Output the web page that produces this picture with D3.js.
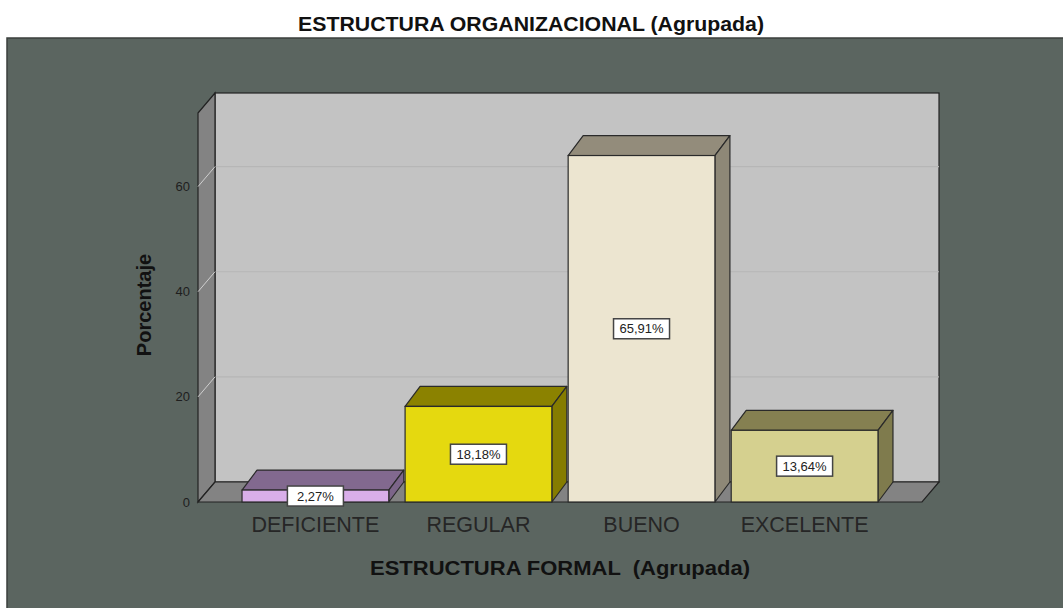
<!DOCTYPE html>
<html>
<head>
<meta charset="utf-8">
<script src="https://cdn.jsdelivr.net/npm/d3@7"></script>
<style>
  body { margin: 0; background: #fff; }
  svg { display: block; font-family: "Liberation Sans", Arial, sans-serif; }
</style>
</head>
<body>
<div id="chart"></div>
<script>
// data
const categories = ["DEFICIENTE", "REGULAR", "BUENO", "EXCELENTE"];
const values = [2.27, 18.18, 65.91, 13.64];
const valueLabels = ["2,27%", "18,18%", "65,91%", "13,64%"];
const yTicks = [0, 20, 40, 60];

// colours per bar: front, top, side
const frontColors = ["#d9aee9", "#e5d90f", "#ece5d0", "#d5d08f"];
const topColors = ["#82698f", "#8b8200", "#938c7b", "#858051"];
const sideColors = ["#7c6589", "#857c00", "#8e8877", "#7f7b4d"];

const width = 1063, height = 608;
const depth = {dx: 17, dy: -20};
const barDepth = {dx: 15, dy: -20};

const svg = d3.select("#chart").append("svg")
    .attr("width", width)
    .attr("height", height);

// dark panel
svg.append("rect")
    .attr("x", 7).attr("y", 38)
    .attr("width", width - 6).attr("height", height - 37)
    .attr("fill", "#5b6560")
    .attr("stroke", "#3b3f3d")
    .attr("stroke-width", 1.5);

// title
svg.append("text")
    .attr("x", 531).attr("y", 31)
    .attr("text-anchor", "middle")
    .attr("font-size", "21px")
    .attr("font-weight", "bold")
    .attr("fill", "#111")
    .attr("textLength", 466)
    .attr("lengthAdjust", "spacingAndGlyphs")
    .text("ESTRUCTURA ORGANIZACIONAL (Agrupada)");

// scales
const x0 = 198, x1 = 922;
const x = d3.scaleBand()
    .domain(categories)
    .range([x0, x1])
    .paddingInner(0.1)
    .paddingOuter(0.27);

const y = d3.scaleLinear()
    .domain([0, 74])
    .range([502, 113]);

const yTop = y.range()[1];
const y0 = y(0);

// back wall
svg.append("rect")
    .attr("x", x0 + depth.dx).attr("y", yTop + depth.dy)
    .attr("width", x1 - x0).attr("height", y0 - yTop)
    .attr("fill", "#c3c3c3")
    .attr("stroke", "#222")
    .attr("stroke-width", 1.2);

// gridlines on back wall
svg.append("g")
    .selectAll("line")
    .data(yTicks.filter(d => d > 0))
    .join("line")
    .attr("x1", x0 + depth.dx).attr("x2", x1 + depth.dx)
    .attr("y1", d => y(d) + depth.dy).attr("y2", d => y(d) + depth.dy)
    .attr("stroke", "#b6b6b6")
    .attr("stroke-width", 1.2);

// side wall
svg.append("polygon")
    .attr("points", [
        [x0, yTop], [x0 + depth.dx, yTop + depth.dy],
        [x0 + depth.dx, y0 + depth.dy], [x0, y0]
    ].map(p => p.join(",")).join(" "))
    .attr("fill", "#838383")
    .attr("stroke", "#222")
    .attr("stroke-width", 1.2);

// ticks running across the side wall
svg.append("g")
    .selectAll("line")
    .data(yTicks.filter(d => d > 0))
    .join("line")
    .attr("x1", x0).attr("x2", x0 + depth.dx)
    .attr("y1", d => y(d)).attr("y2", d => y(d) + depth.dy)
    .attr("stroke", "#cfcfcf")
    .attr("stroke-width", 1);

// floor
svg.append("polygon")
    .attr("points", [
        [x0, y0], [x0 + depth.dx, y0 + depth.dy],
        [x1 + depth.dx, y0 + depth.dy], [x1, y0]
    ].map(p => p.join(",")).join(" "))
    .attr("fill", "#838383")
    .attr("stroke", "#222")
    .attr("stroke-width", 1.2);

// y axis labels
svg.append("g")
    .selectAll("text")
    .data(yTicks)
    .join("text")
    .attr("x", x0 - 8)
    .attr("y", d => y(d))
    .attr("dy", "0.35em")
    .attr("text-anchor", "end")
    .attr("font-size", "13px")
    .attr("fill", "#1e1e1e")
    .text(d => d);

// y title
svg.append("text")
    .attr("transform", `translate(151, 305) rotate(-90)`)
    .attr("text-anchor", "middle")
    .attr("font-size", "20px")
    .attr("font-weight", "bold")
    .attr("fill", "#111")
    .text("Porcentaje");

// bars
const bars = svg.append("g")
    .selectAll("g")
    .data(categories.map((c, i) => ({cat: c, v: values[i], i: i})))
    .join("g");

// top face
bars.append("polygon")
    .attr("points", d => {
        const l = x(d.cat), r = l + x.bandwidth(), t = y(d.v);
        return [[l, t], [l + barDepth.dx, t + barDepth.dy],
                [r + barDepth.dx, t + barDepth.dy], [r, t]].map(p => p.join(",")).join(" ");
    })
    .attr("fill", d => topColors[d.i])
    .attr("stroke", "#2a2a2a")
    .attr("stroke-width", 1.2)
    .attr("stroke-linejoin", "round");

// side face
bars.append("polygon")
    .attr("points", d => {
        const r = x(d.cat) + x.bandwidth(), t = y(d.v);
        return [[r, t], [r + barDepth.dx, t + barDepth.dy],
                [r + barDepth.dx, y0 + barDepth.dy], [r, y0]].map(p => p.join(",")).join(" ");
    })
    .attr("fill", d => sideColors[d.i])
    .attr("stroke", "#2a2a2a")
    .attr("stroke-width", 1.2)
    .attr("stroke-linejoin", "round");

// front face
bars.append("rect")
    .attr("x", d => x(d.cat))
    .attr("y", d => y(d.v))
    .attr("width", x.bandwidth())
    .attr("height", d => y0 - y(d.v))
    .attr("fill", d => frontColors[d.i])
    .attr("stroke", "#2a2a2a")
    .attr("stroke-width", 1.2);

// value labels
const lab = bars.append("g")
    .attr("transform", d => `translate(${x(d.cat) + x.bandwidth() / 2}, ${(y(d.v) + y0) / 2})`);
lab.append("rect")
    .attr("x", -28).attr("y", -10)
    .attr("width", 56).attr("height", 20)
    .attr("fill", "#fff")
    .attr("stroke", "#444")
    .attr("stroke-width", 1.5);
lab.append("text")
    .attr("text-anchor", "middle")
    .attr("dy", "0.36em")
    .attr("font-size", "13px")
    .attr("fill", "#222")
    .text(d => valueLabels[d.i]);

// x axis category labels
svg.append("g")
    .selectAll("text")
    .data(categories)
    .join("text")
    .attr("x", d => x(d) + x.bandwidth() / 2)
    .attr("y", 532)
    .attr("text-anchor", "middle")
    .attr("font-size", "21.5px")
    .attr("fill", "#262626")
    .text(d => d);

// x title
svg.append("text")
    .attr("x", 560).attr("y", 575)
    .attr("text-anchor", "middle")
    .attr("font-size", "21px")
    .attr("font-weight", "bold")
    .attr("fill", "#111")
    .attr("textLength", 380)
    .attr("lengthAdjust", "spacingAndGlyphs")
    .style("white-space", "pre")
    .text("ESTRUCTURA FORMAL  (Agrupada)");
</script>
</body>
</html>
